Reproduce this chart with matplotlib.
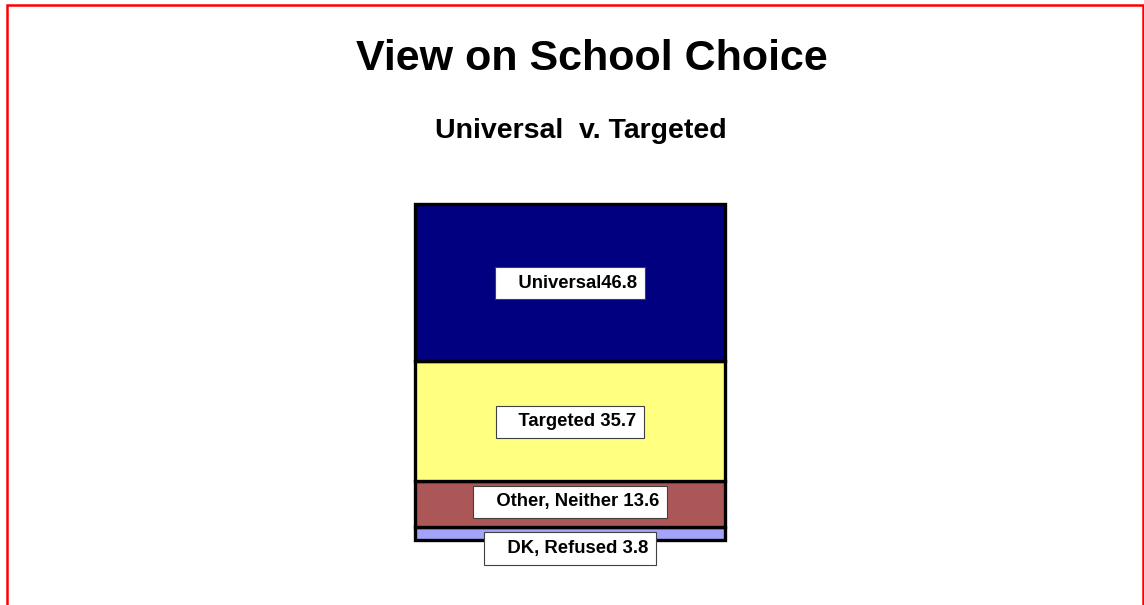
import matplotlib
matplotlib.use("Agg")
import matplotlib.pyplot as plt
from matplotlib.patches import Rectangle

plt.rcParams['font.family'] = ['Liberation Sans', 'DejaVu Sans']

# Data
categories = ["Universal", "Targeted", "Other, Neither", "DK, Refused"]
values = [46.8, 35.7, 13.6, 3.8]
colors = ["#000080", "#FFFF80", "#AB5757", "#A3A3FA"]
label_texts = ["Universal46.8", "Targeted 35.7", "Other, Neither 13.6", "DK, Refused 3.8"]
title = "View on School Choice"
subtitle = "Universal  v. Targeted"

W, H = 1144, 605
fig = plt.figure(figsize=(W / 100, H / 100), dpi=100)
fig.patch.set_facecolor("white")

# axes placed in pixel terms
left_px, right_px, top_px, bot_px = 415, 725, 204, 540
ax = fig.add_axes([left_px / W, (H - bot_px) / H, (right_px - left_px) / W, (bot_px - top_px) / H])

total = sum(values)
ax.set_xlim(-0.5, 0.5)
ax.set_ylim(0, total)
ax.axis("off")

# stack from bottom: DK, Other, Targeted, Universal
order = list(range(len(values)))[::-1]
bottom = 0.0
centers = {}
for i in order:
    ax.bar(0, values[i], width=1.0, bottom=bottom, color=colors[i],
           edgecolor="black", linewidth=2.4, clip_on=False)
    centers[i] = bottom + values[i] / 2
    bottom += values[i]

offsets_px = {0: -0.5, 1: -0.5, 2: 2.5, 3: -15}
for i in range(len(values)):
    ax.annotate("   " + label_texts[i], xy=(0, centers[i]), xytext=(0, offsets_px[i] * 0.72),
                textcoords="offset points", ha="center", va="center",
                fontsize=13.3, fontweight="bold", color="black",
                bbox=dict(boxstyle="square,pad=0.42", facecolor="white",
                          edgecolor="#404040", linewidth=0.8),
                annotation_clip=False)

fig.text(592 / W, 1 - 59 / H, title, ha="center", va="center",
         fontsize=31, fontweight="bold")
fig.text(581 / W, 1 - 131 / H, subtitle, ha="center", va="center",
         fontsize=20.5, fontweight="bold")

# red frame
fig.patches.append(Rectangle((7 / W, -0.05), (1143.3 - 7) / W, 1.05 - 5 / H,
                             transform=fig.transFigure, fill=False,
                             edgecolor="#FF0000", linewidth=1.8))

fig.savefig("out.png", dpi=100)
